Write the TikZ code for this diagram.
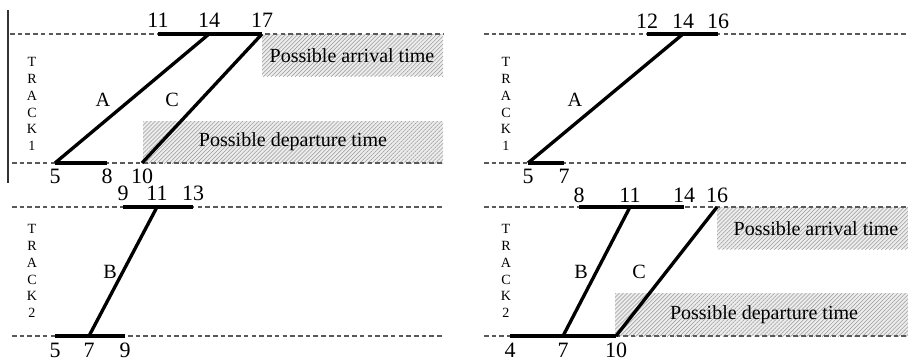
\documentclass[tikz,border=0pt]{standalone}
\usepackage{fontspec}
\setmainfont{Liberation Serif}
\usetikzlibrary{patterns.meta}
\tikzset{
  trackline/.style={draw=black!65, line width=0.6pt, dash pattern=on 2.6pt off 1.8pt},
  frameline/.style={draw=black!80, line width=0.6pt},
  window/.style={line width=1.9pt},
  train/.style={line width=1.9pt},
  hatchbox/.style={preaction={fill=black!7},
                   pattern={Lines[angle=45, distance=1.6pt, line width=0.3pt]},
                   pattern color=black!40},
  boxtext/.style={font=\fontsize{11.4}{13}\selectfont, inner sep=0pt},
  timelabel/.style={font=\fontsize{12.5}{14}\selectfont, inner sep=0pt},
  trainname/.style={font=\fontsize{11.5}{13}\selectfont, inner sep=0pt},
  tracktext/.style={font=\fontsize{8}{9.6}\selectfont, align=center, inner sep=0pt},
}
\begin{document}
\begin{tikzpicture}[x=0.02cm, y=-0.02cm]
\useasboundingbox (0,0) rectangle (908,360);

% ================= left, track 1 =================
\draw[frameline] (8,10) -- (8,183);
\path[hatchbox] (262,34) rectangle (443,76);
\path[hatchbox] (143,121) rectangle (443,163);
\node[boxtext] (arrL) at (352,56) {Possible arrival time};
\node[boxtext] (depL) at (293,142) {Possible departure time};
\draw[trackline] (10,34) -- (443,34);
\draw[trackline] (12,163) -- (443,163);
\node[tracktext] (trkL1) at (32,104) {T\\R\\A\\C\\K\\1};

\coordinate (la11) at (158,34);
\coordinate (la14) at (209,34);
\coordinate (la17) at (262,34);
\coordinate (ld5) at (55,163);
\coordinate (ld8) at (107,163);
\coordinate (ld10) at (142,163);
\draw[window] (la11) -- (la17);
\draw[window] (ld5) -- (ld8);
\draw[train] (ld5) -- (la14);
\draw[train] (ld10) -- (la17);
\foreach \t/\x in {11/158,14/209,17/262}
  \node[timelabel] (lat\t) at (\x,20) {\t};
\foreach \t/\x in {5/55,8/107,10/142}
  \node[timelabel] (ldt\t) at (\x,176) {\t};
\node[trainname] (lA) at (103,100) {A};
\node[trainname] (lC) at (172,100) {C};

% ================= left, track 2 =================
\draw[trackline] (12,207) -- (443,207);
\draw[trackline] (12,336) -- (443,336);
\node[tracktext] (trkL2) at (32,271) {T\\R\\A\\C\\K\\2};

\coordinate (lb9) at (123,207);
\coordinate (lb11) at (157,207);
\coordinate (lb13) at (193,207);
\coordinate (le5) at (55,336);
\coordinate (le7) at (89,336);
\coordinate (le9) at (125,336);
\draw[window] (lb9) -- (lb13);
\draw[window] (le5) -- (le9);
\draw[train] (le7) -- (lb11);
\foreach \t/\x in {9/123,11/157,13/193}
  \node[timelabel] (lbt\t) at (\x,193) {\t};
\foreach \t/\x in {5/55,7/89,9/125}
  \node[timelabel] (let\t) at (\x,350) {\t};
\node[trainname] (lB) at (110,272) {B};

% ================= right, track 1 =================
\draw[trackline] (484,34) -- (908,34);
\draw[trackline] (484,163) -- (908,163);
\node[tracktext] (trkR1) at (506,104) {T\\R\\A\\C\\K\\1};

\coordinate (ra12) at (647,34);
\coordinate (ra14) at (683,34);
\coordinate (ra16) at (718,34);
\coordinate (rd5) at (528,163);
\coordinate (rd7) at (564,163);
\draw[window] (ra12) -- (ra16);
\draw[window] (rd5) -- (rd7);
\draw[train] (rd5) -- (ra14);
\foreach \t/\x in {12/647,14/683,16/718}
  \node[timelabel] (rat\t) at (\x,21) {\t};
\foreach \t/\x in {5/528,7/564}
  \node[timelabel] (rdt\t) at (\x,176) {\t};
\node[trainname] (rA) at (575,100) {A};

% ================= right, track 2 =================
\path[hatchbox] (717,207) rectangle (908,249);
\path[hatchbox] (615,293) rectangle (908,336);
\node[boxtext] (arrR) at (816,229) {Possible arrival time};
\node[boxtext] (depR) at (764,315) {Possible departure time};
\draw[trackline] (484,207) -- (908,207);
\draw[trackline] (484,336) -- (908,336);
\node[tracktext] (trkR2) at (506,271) {T\\R\\A\\C\\K\\2};

\coordinate (rb8) at (579,207);
\coordinate (rb11) at (630,207);
\coordinate (rb14) at (684,207);
\coordinate (rb16) at (717,207);
\coordinate (re4) at (510,336);
\coordinate (re7) at (563,336);
\coordinate (re10) at (616,336);
\draw[window] (rb8) -- (rb14);
\draw[window] (re4) -- (re10);
\draw[train] (re7) -- (rb11);
\draw[train] (re10) -- (rb16);
\foreach \t/\x in {8/579,11/630,14/684,16/717}
  \node[timelabel] (rbt\t) at (\x,195) {\t};
\foreach \t/\x in {4/510,7/563,10/616}
  \node[timelabel] (ret\t) at (\x,350) {\t};
\node[trainname] (rB) at (581,272) {B};
\node[trainname] (rC) at (639,272) {C};

\end{tikzpicture}
\end{document}
